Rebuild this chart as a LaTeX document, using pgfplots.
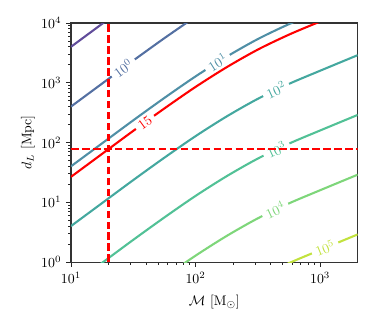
\documentclass[border=0pt]{standalone}
\usepackage{pgfplots}
\pgfplotsset{compat=1.18}
\definecolor{cm1}{HTML}{604C9A}
\definecolor{c0}{HTML}{5470A2}
\definecolor{c1}{HTML}{4F8FA6}
\definecolor{c2}{HTML}{44A89F}
\definecolor{c3}{HTML}{52C196}
\definecolor{c4}{HTML}{7ED67A}
\definecolor{c5}{HTML}{C2E23E}
\begin{document}
\begin{tikzpicture}
\begin{axis}[
  scale only axis, width=206.4bp, height=172.1bp,
  xmode=log, ymode=log,
  xmin=10, xmax=2000, ymin=1, ymax=10000,
  xtick={10,100,1000}, ytick={1,10,100,1000,10000},
  xtick pos=bottom, ytick pos=left, tick align=outside,
  major tick length=3.5bp, minor tick length=2bp,
  every tick/.style={black!85, line width=0.6pt},
  axis line style={black!80, line width=0.8pt},
  xlabel={$\mathcal{M}$ [M$_\odot$]},
  ylabel={$d_L$ [Mpc]},
  every axis x label/.style={at={(axis description cs:0.5,-0.166)}, anchor=center},
  every axis y label/.style={at={(axis description cs:-0.150,0.5)}, anchor=center, rotate=90},
  every axis plot/.append style={line width=1.5bp, smooth, no markers},
  clip=true,
]
% level 10^-1
\addplot[cm1] coordinates {(10,4000) (17.78,9705) (31.62,23550)};
% level 10^0
\addplot[c0] coordinates {(10,400) (17.78,970.5) (31.62,2355) (56.23,5585) (100,12794)};
% level 10^1
\addplot[c1] coordinates {(10,40) (17.78,97.05) (31.62,235.5) (56.23,558.5) (100,1279.4) (177.8,2735.3) (316.2,5395) (562.3,9594) (1000,15922) (2000,28973)};
% level 10^2
\addplot[c2] coordinates {(10,4) (17.78,9.705) (31.62,23.55) (56.23,55.85) (100,127.94) (177.8,273.53) (316.2,539.5) (562.3,959.4) (1000,1592.2) (2000,2897.3)};
% level 10^3
\addplot[c3] coordinates {(10,0.4) (17.78,0.9705) (31.62,2.355) (56.23,5.585) (100,12.794) (177.8,27.353) (316.2,53.95) (562.3,95.94) (1000,159.22) (2000,289.73)};
% level 10^4
\addplot[c4] coordinates {(31.62,0.2355) (56.23,0.5585) (100,1.2794) (177.8,2.7353) (316.2,5.395) (562.3,9.594) (1000,15.922) (2000,28.973)};
% level 10^5
\addplot[c5] coordinates {(177.8,0.27353) (316.2,0.5395) (562.3,0.9594) (1000,1.5922) (2000,2.8973)};
% SNR 15
\addplot[red] coordinates {(10,26.67) (17.78,64.70) (31.62,157.0) (56.23,372.3) (100,852.9) (177.8,1823.5) (316.2,3596.7) (562.3,6396) (1000,10615) (2000,19315)};
% contour labels
\tikzset{clab/.style={fill=white, inner xsep=3bp, inner ysep=0.5pt}}
\node[clab, text=c0, rotate=37] at (axis cs:26.3,1774) {$10^{0}$};
\node[clab, text=c1, rotate=32] at (axis cs:150.3,2193) {$10^{1}$};
\node[clab, text=red, rotate=36] at (axis cs:39.3,217.3) {$15$};
\node[clab, text=c2, rotate=25] at (axis cs:443.6,756.8) {$10^{2}$};
\node[clab, text=c3, rotate=25] at (axis cs:446.7,76.2) {$10^{3}$};
\node[clab, text=c4, rotate=25] at (axis cs:436.5,7.45) {$10^{4}$};
\node[clab, text=c5, rotate=22] at (axis cs:1096,1.726) {$10^{5}$};
% dashed reference lines
\addplot[red, dash pattern=on 5.5bp off 2.4bp, sharp plot] coordinates {(20,1) (20,10000)};
\addplot[red, dash pattern=on 5.5bp off 2.4bp, sharp plot] coordinates {(10,77) (2000,77)};
\end{axis}
\path ([xshift=-51.1bp,yshift=-46.8bp]current axis.south west) rectangle ([xshift=11.8bp,yshift=16.6bp]current axis.north east);
\end{tikzpicture}
\end{document}
